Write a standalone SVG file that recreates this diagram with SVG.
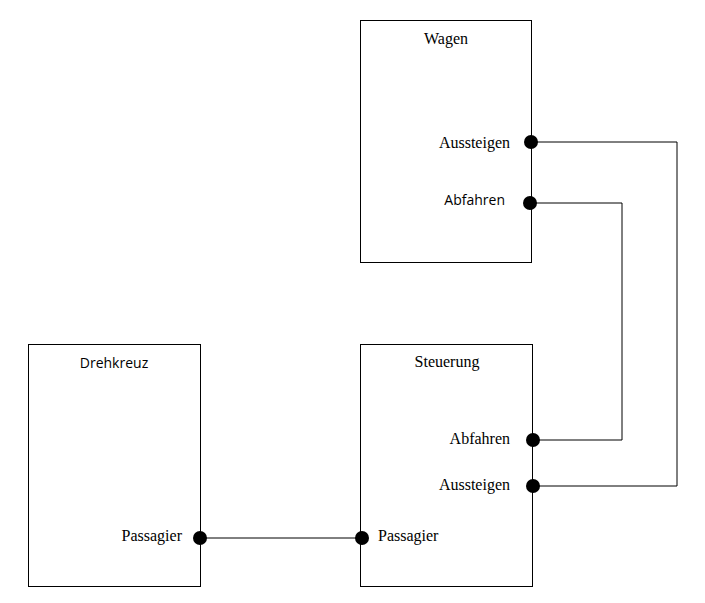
<svg xmlns="http://www.w3.org/2000/svg" width="705" height="603" viewBox="0 0 705 603">
<style>
.box{fill:#fff;stroke:#000;stroke-width:1}
.serif{font-family:"Liberation Serif","Times New Roman",serif;font-size:16px;fill:#000}
.sans{font-family:"Open Sans","Segoe UI",sans-serif;font-size:14px;fill:#000}
.wire{fill:none;stroke:#000;stroke-width:1}
.dot{fill:#000}
</style>
<rect width="705" height="603" fill="#fff"/>
<g id="connectors">
<polyline class="wire" points="531,142 677,142 677,486 533,486"/>
<polyline class="wire" points="530,203 622,203 622,440 533,440"/>
<line class="wire" x1="200" y1="538" x2="362" y2="538"/>
</g>
<g id="wagen">
<rect class="box" x="360.5" y="20.5" width="171" height="242"/>
<text class="serif" x="446" y="44" text-anchor="middle">Wagen</text>
<text class="serif" x="510" y="148" text-anchor="end">Aussteigen</text>
<text class="sans" x="505" y="205" text-anchor="end">Abfahren</text>
<circle class="dot" cx="531" cy="142" r="7"/>
<circle class="dot" cx="530" cy="203" r="7"/>
</g>
<g id="drehkreuz">
<rect class="box" x="28.5" y="344.5" width="172" height="242"/>
<text class="sans" x="114" y="368" text-anchor="middle">Drehkreuz</text>
<text class="serif" x="182" y="541" text-anchor="end">Passagier</text>
<circle class="dot" cx="200" cy="538" r="7"/>
</g>
<g id="steuerung">
<rect class="box" x="360.5" y="344.5" width="172" height="242"/>
<text class="serif" x="447" y="367" text-anchor="middle">Steuerung</text>
<text class="serif" x="510" y="444" text-anchor="end">Abfahren</text>
<text class="serif" x="510" y="490" text-anchor="end">Aussteigen</text>
<text class="serif" x="378" y="541">Passagier</text>
<circle class="dot" cx="533" cy="440" r="7"/>
<circle class="dot" cx="533" cy="486" r="7"/>
<circle class="dot" cx="362" cy="538" r="7"/>
</g>
</svg>
